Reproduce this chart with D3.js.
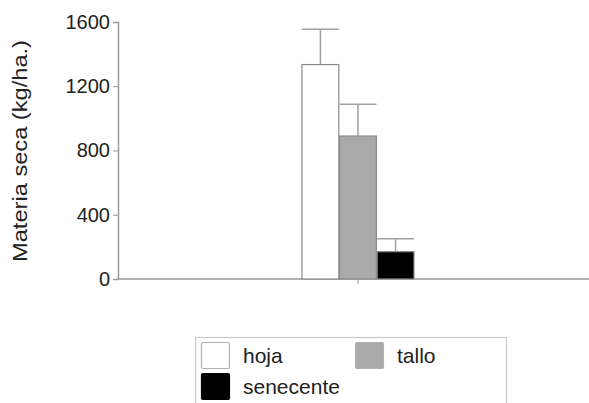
<!DOCTYPE html>
<html>
<head>
<meta charset="utf-8">
<script src="https://cdn.jsdelivr.net/npm/d3@7"></script>
<style>
  html, body { margin: 0; padding: 0; background: #fff; }
  svg { display: block; font-family: "Liberation Sans", Arial, sans-serif; }
</style>
</head>
<body>
<svg id="chart" width="589" height="403"></svg>
<script>
// Dry matter by plant fraction (kg/ha), with standard-deviation bars
const categories = [""];
const series = ["hoja", "tallo", "senecente"];
const values = [1335, 890, 170];
const errors = [220, 198, 80];
const fills = ["#ffffff", "#aaaaaa", "#000000"];
const yTicks = [0, 400, 800, 1200, 1600];

const svg = d3.select("#chart");
const axisColor = "#9a9a9a";
const textColor = "#222";

const y = d3.scaleLinear().domain([0, 1600]).range([279, 22]);
const x = d3.scaleBand().domain(categories).range([118, 598]);
const xs = d3.scaleBand().domain(series).range([0, 112]).paddingInner(0.02);
const groupX = x(categories[0]) + x.bandwidth() / 2 - 56;

// Y axis
const yAxis = svg.append("g")
  .attr("transform", "translate(118,0)")
  .call(d3.axisLeft(y).tickValues(yTicks).tickSize(5).tickPadding(3).tickFormat(d3.format("d")));
yAxis.select(".domain").attr("stroke", axisColor).attr("stroke-width", 1.5);
yAxis.selectAll(".tick line").attr("stroke", axisColor);
yAxis.selectAll(".tick text").attr("fill", textColor).style("font-size", "20px")
  .style("font-family", "Liberation Sans, Arial, sans-serif");

// X axis
svg.append("line")
  .attr("x1", 118).attr("x2", 589)
  .attr("y1", y(0)).attr("y2", y(0))
  .attr("stroke", axisColor).attr("stroke-width", 1.5);
svg.append("line")
  .attr("x1", x(categories[0]) + x.bandwidth() / 2).attr("x2", x(categories[0]) + x.bandwidth() / 2)
  .attr("y1", y(0)).attr("y2", y(0) + 5)
  .attr("stroke", axisColor);

// Y label
svg.append("text")
  .attr("transform", "translate(27,151) rotate(-90)")
  .attr("text-anchor", "middle")
  .attr("fill", textColor)
  .attr("textLength", 222)
  .attr("lengthAdjust", "spacingAndGlyphs")
  .style("font-size", "20px")
  .text("Materia seca (kg/ha.)");

// Bars with error whiskers
const bars = svg.append("g");
series.forEach((s, i) => {
  const bx = groupX + xs(s);
  const bw = xs.bandwidth();
  bars.append("line")
    .attr("x1", bx + bw / 2).attr("x2", bx + bw / 2)
    .attr("y1", y(values[i])).attr("y2", y(values[i] + errors[i]))
    .attr("stroke", "#a0a0a0").attr("stroke-width", 1.5);
  bars.append("line")
    .attr("x1", bx).attr("x2", bx + bw)
    .attr("y1", y(values[i] + errors[i])).attr("y2", y(values[i] + errors[i]))
    .attr("stroke", "#a0a0a0").attr("stroke-width", 1.5);
  bars.append("rect")
    .attr("x", bx).attr("y", y(values[i]))
    .attr("width", bw).attr("height", y(0) - y(values[i]))
    .attr("fill", fills[i])
    .attr("stroke", "#8a8a8a").attr("stroke-width", 1.2);
});

// Legend
const lg = svg.append("g");
lg.append("rect")
  .attr("x", 195.5).attr("y", 337.5).attr("width", 311).attr("height", 80)
  .attr("fill", "#fff").attr("stroke", "#c8c8c8").attr("stroke-width", 1.2);
const legendPos = [[201, 342], [355, 342], [201, 373]];
series.forEach((s, i) => {
  const [lx, ly] = legendPos[i];
  lg.append("rect")
    .attr("x", lx + 0.5).attr("y", ly + 0.5).attr("width", 28).attr("height", 26)
    .attr("rx", 1.5)
    .attr("fill", fills[i])
    .attr("stroke", i === 2 ? "#000" : "#b0b0b0").attr("stroke-width", 1.2);
  lg.append("text")
    .attr("x", lx + 42).attr("y", ly + 21)
    .attr("fill", textColor)
    .style("font-size", "21px")
    .text(s);
});
</script>
</body>
</html>
